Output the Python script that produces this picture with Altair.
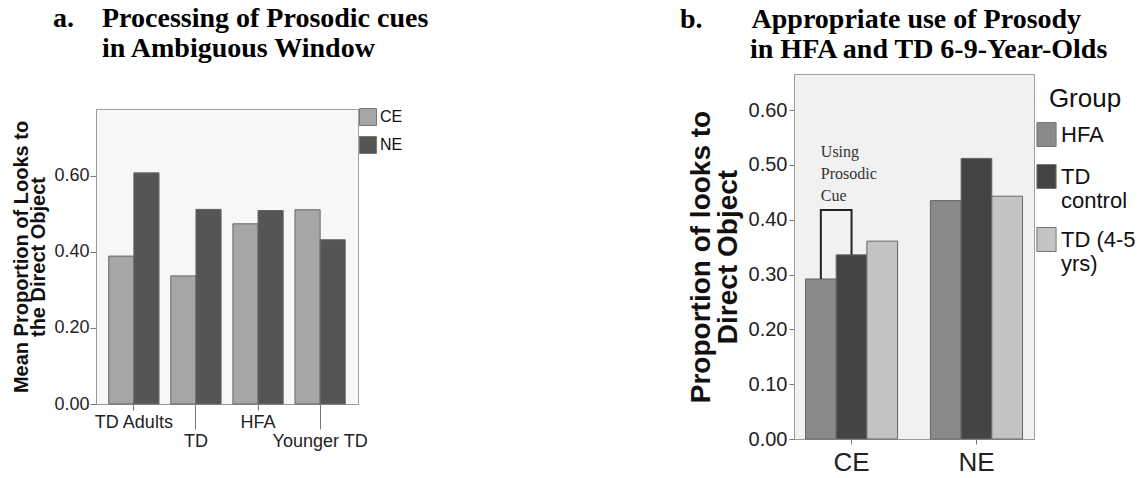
import altair as alt
import pandas as pd

# ---------------- data ----------------
groups_a = ["TD Adults", "TD", "HFA", "Younger TD"]
conds_a = ["CE", "NE"]
ce_a = [0.389, 0.337, 0.474, 0.511]
ne_a = [0.608, 0.512, 0.509, 0.432]
ticks_a = [0.0, 0.2, 0.4, 0.6]

conds_b = ["CE", "NE"]
groups_b = ["HFA", "TD control", "TD (4-5 yrs)"]
hfa_b = [0.292, 0.435]
tdc_b = [0.336, 0.512]
td45_b = [0.361, 0.443]
ticks_b = [0.0, 0.1, 0.2, 0.3, 0.4, 0.5, 0.6]
bracket_top = 0.418
cue_label = "Using\nProsodic\nCue"
cue_label_y = 0.538

df_a = pd.DataFrame({
    "Group": groups_a * 2,
    "Condition": ["CE"] * len(groups_a) + ["NE"] * len(groups_a),
    "Value": ce_a + ne_a,
})
df_b = pd.DataFrame({
    "Condition": conds_b * 3,
    "Group": [g for g in groups_b for _ in conds_b],
    "Value": hfa_b + tdc_b + td45_b,
})
df_br = pd.DataFrame({
    "Condition": ["CE"] * 4,
    "Group": ["HFA", "HFA", "TD control", "TD control"],
    "Value": [hfa_b[0], bracket_top, bracket_top, tdc_b[0]],
    "ord": [0, 1, 2, 3],
})
df_txt = pd.DataFrame({"Condition": ["CE"], "Group": ["HFA"], "Value": [cue_label_y], "label": [cue_label]})

sans = "Liberation Sans"
serif = "Liberation Serif"
NB = "\u00a0"
ZW = "\u200b"

# ---------------- panel a ----------------
title_a = alt.TitleParams(
    text=["a." + NB * 4 + "Processing of Prosodic cues", ZW + NB * 7 + "in Ambiguous Window"],
    anchor="start", frame="group", dx=-43, offset=45,
    font=serif, fontSize=28, fontWeight="bold", lineHeight=30, color="#000",
)

row2 = "indexof(['TD','Younger TD'], datum.value) >= 0"
left = alt.Chart(df_a).mark_bar(stroke="#666", strokeWidth=1).encode(
    x=alt.X("Group:N", sort=groups_a,
            scale=alt.Scale(paddingInner=0.19, paddingOuter=0.205),
            axis=alt.Axis(title=None, labelAngle=0, labelFontSize=18,
                          labelPadding=3,
                          tickSize={"condition": {"test": row2, "value": 25}, "value": 6})),
    xOffset=alt.XOffset("Condition:N", sort=conds_a),
    y=alt.Y("Value:Q", scale=alt.Scale(domain=[0, 0.776], nice=False),
            axis=alt.Axis(values=ticks_a, format=".2f",
                          title=["Mean Proportion of Looks to", "the Direct Object"],
                          titleFontSize=20, titleFontWeight="bold", titleLineHeight=17,
                          titlePadding=5, labelFontSize=18, tickSize=6, labelPadding=1)),
    color=alt.Color("Condition:N",
                    scale=alt.Scale(domain=conds_a, range=["#a6a6a6", "#555555"]),
                    legend=alt.Legend(title=None, orient="none", legendX=263, legendY=-1,
                                      symbolType="square", symbolSize=289,
                                      symbolStrokeColor="#777", symbolStrokeWidth=1,
                                      labelFontSize=16, labelOffset=3, rowPadding=6)),
).properties(width=262, height=295, title=title_a,
             view=alt.ViewBackground(fill="#f7f7f7", stroke="#a0a0a0"))

# ---------------- panel b ----------------
title_b = alt.TitleParams(
    text=["b." + NB * 7 + "Appropriate use of Prosody", ZW + NB * 10 + "in HFA and TD 6-9-Year-Olds"],
    anchor="start", frame="group", dx=-114, offset=10,
    font=serif, fontSize=28, fontWeight="bold", lineHeight=30, color="#000",
)

xb = alt.X("Condition:N", sort=conds_b,
           scale=alt.Scale(paddingInner=0.263, paddingOuter=0.092),
           axis=alt.Axis(title=None, labelAngle=0, labelFontSize=26, tickSize=5, labelPadding=5))
xob = alt.XOffset("Group:N", scale=alt.Scale(domain=groups_b))
yb = alt.Y("Value:Q", scale=alt.Scale(domain=[0, 0.666], nice=False),
           axis=alt.Axis(values=ticks_b, format=".2f",
                         title=["Proportion of looks to", "Direct Object"],
                         titleFontSize=28, titleFontWeight="bold", titleLineHeight=27,
                         titlePadding=6, labelFontSize=20, tickSize=5, labelPadding=2))

bars_b = alt.Chart(df_b).mark_bar(stroke="#666", strokeWidth=1).encode(
    x=xb, xOffset=xob, y=yb,
    color=alt.Color("Group:N",
                    scale=alt.Scale(domain=groups_b, range=["#8a8a8a", "#444444", "#c3c3c3"]),
                    legend=alt.Legend(title="Group", orient="none", legendX=240, legendY=12,
                                      titleFontSize=26, titleFontWeight="normal",
                                      titleAnchor="middle", titlePadding=10,
                                      titleColor="#111",
                                      symbolType="M-0.8,-1H0.8V1H-0.8Z", symbolSize=576,
                                      symbolStrokeColor="#777", symbolStrokeWidth=1,
                                      labelFontSize=22, labelOffset=2,
                                      labelLimit=300, rowPadding=13,
                                      labelExpr="datum.label == 'TD control' ? ['TD', 'control'] : datum.label == 'TD (4-5 yrs)' ? ['TD (4-5', 'yrs)'] : datum.label")),
)

bracket = alt.Chart(df_br).mark_line(color="#222", strokeWidth=2).encode(
    x=xb, xOffset=xob, y=yb, order="ord:Q",
)

cue = alt.Chart(df_txt).mark_text(align="left", baseline="top", font=serif, fontSize=16,
                                  lineHeight=22, lineBreak="\n", color="#333").encode(
    x=xb, xOffset=xob, y=yb, text="label:N",
)

right = alt.layer(bars_b, bracket, cue).properties(
    width=240, height=365, title=title_b,
    view=alt.ViewBackground(fill="#f1f1f1", stroke="#a0a0a0"))

chart = alt.hconcat(left, right, spacing=436, bounds="flush", center=True).resolve_scale(
    color="independent", x="independent", y="independent", xOffset="independent"
).resolve_legend(color="independent").properties(
    padding={"left": 11, "top": 4, "right": 5, "bottom": 5},
    background="white",
).configure_axis(
    labelFont=sans, titleFont=sans, labelColor="#222", titleColor="#111",
    domainColor="#999", tickColor="#777", grid=False,
).configure_legend(labelFont=sans, titleFont=sans, labelColor="#111")

chart.save("out.html", embed_options={"renderer": "svg", "actions": False})
